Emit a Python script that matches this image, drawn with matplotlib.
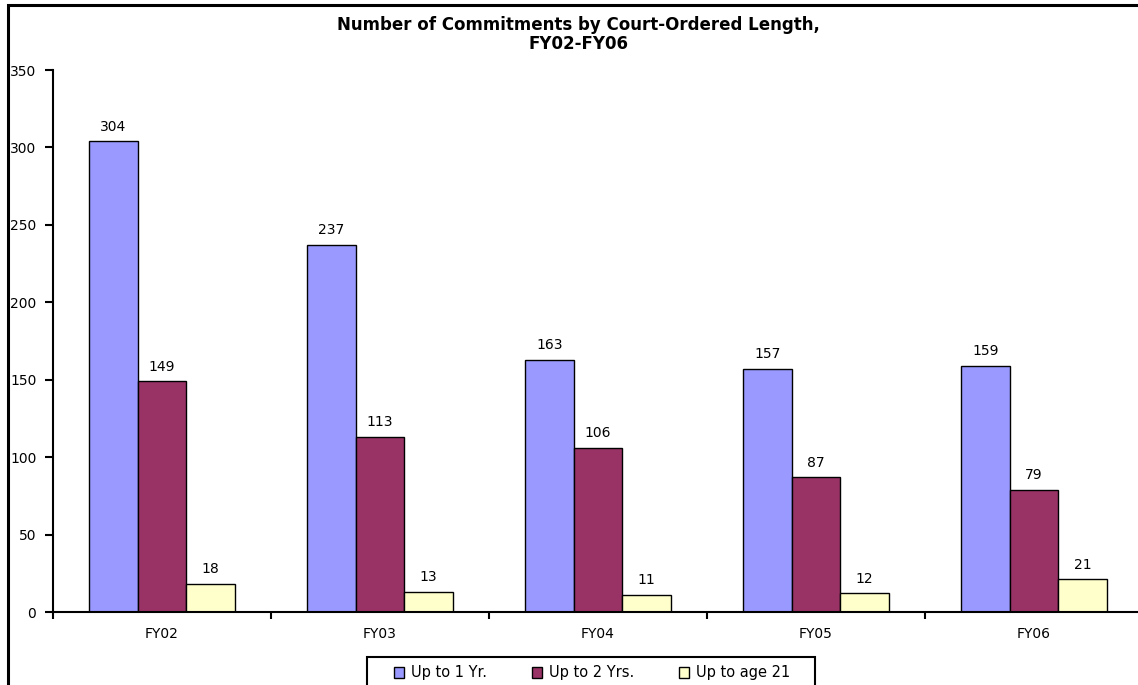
import matplotlib
matplotlib.use("Agg")
import matplotlib.pyplot as plt
import numpy as np
from matplotlib.patches import Rectangle

plt.rcParams['font.family'] = ['DejaVu Sans']

categories = ["FY02", "FY03", "FY04", "FY05", "FY06"]
series_names = ["Up to 1 Yr.", "Up to 2 Yrs.", "Up to age 21"]
up_to_1yr = [304, 237, 163, 157, 159]
up_to_2yrs = [149, 113, 106, 87, 79]
up_to_age21 = [18, 13, 11, 12, 21]
colors = ["#9999FF", "#993366", "#FFFFCC"]
yticks = [0, 50, 100, 150, 200, 250, 300, 350]

W, H = 1138, 685
fig = plt.figure(figsize=(W / 100, H / 100), dpi=100)

# figure border (only top and left visible in the reference)
fig.patches.append(Rectangle((7.5 / W, -0.1), 1.2, 1 - 5.5 / H + 0.1,
                             transform=fig.transFigure, fill=False,
                             edgecolor="black", linewidth=2.2, zorder=0))

ax = fig.add_axes([53 / W, 1 - 612 / H, 1090 / W, (612 - 70) / H])
x = np.arange(len(categories))
bw = 0.2225
for i, (vals, name, c) in enumerate(zip([up_to_1yr, up_to_2yrs, up_to_age21], series_names, colors)):
    pos = x + (i - 1) * bw
    ax.bar(pos, vals, width=bw, color=c, edgecolor="black", linewidth=1.0, label=name, zorder=2)
    for p, v in zip(pos, vals):
        ax.annotate(str(v), (p, v), xytext=(0, 5.5), textcoords="offset points",
                    ha="center", va="bottom", fontsize=10)

ax.set_xlim(-0.5, len(categories) - 0.5)
ax.set_ylim(0, 350)
ax.set_yticks(yticks)
ax.set_yticklabels([str(t) for t in yticks], fontsize=10)
ax.set_xticks(np.arange(len(categories) + 1) - 0.5)
ax.set_xticklabels([])
ax.set_xticks(x, minor=True)
ax.set_xticklabels(categories, minor=True, fontsize=10)
ax.tick_params(axis="x", which="minor", length=0, pad=11)
ax.tick_params(axis="x", which="major", length=5, width=1.5, direction="out")
ax.tick_params(axis="y", length=6, width=1.5, direction="out", pad=6)
for s in ["top", "right"]:
    ax.spines[s].set_visible(False)
ax.spines["left"].set_linewidth(1.5)
ax.spines["bottom"].set_linewidth(1.5)
ax.spines["bottom"].set_zorder(3)

fig.text(0.508, 1 - 25 / H, "Number of Commitments by Court-Ordered Length,",
         ha="center", va="center", fontsize=12, fontweight="bold")
fig.text(0.508, 1 - 44 / H, "FY02-FY06", ha="center", va="center",
         fontsize=12, fontweight="bold")

leg = fig.legend(loc="center", bbox_to_anchor=(592 / W, 1 - 673 / H), ncol=3,
                 fontsize=10.5, frameon=False,
                 handlelength=0.7, handleheight=0.7, columnspacing=3.1,
                 handletextpad=0.45, borderpad=0.3)
# legend frame (bottom edge runs past the figure in the reference)
fig.patches.append(Rectangle((367 / W, -0.05), 448 / W, (685 - 657) / H + 0.05,
                             transform=fig.transFigure, fill=False,
                             edgecolor="black", linewidth=1.5, zorder=1))

fig.savefig("out.png", dpi=100)
